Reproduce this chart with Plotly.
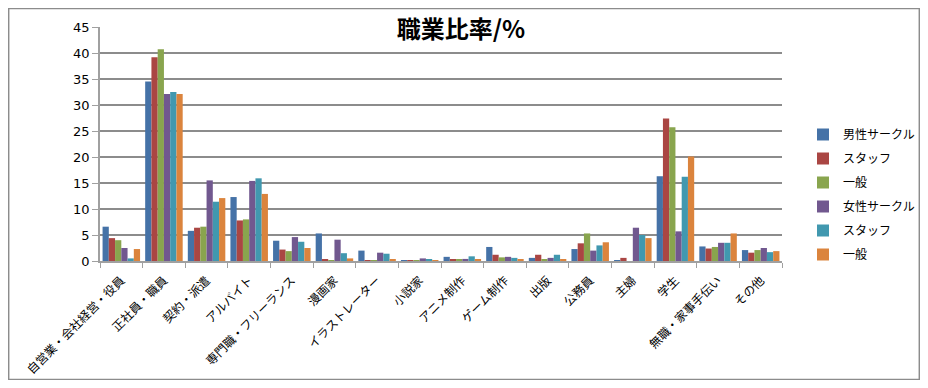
import plotly.graph_objects as go

categories = ["自営業・会社経営・役員", "正社員・職員", "契約・派遣", "アルバイト", "専門職・フリーランス",
              "漫画家", "イラストレーター", "小説家", "アニメ制作", "ゲーム制作", "出版", "公務員",
              "主婦", "学生", "無職・家事手伝い", "その他"]

series_names = ["男性サークル", "スタッフ", "一般", "女性サークル", "スタッフ", "一般"]

male_circle   = [6.6, 34.5, 5.8, 12.3, 3.9, 5.3, 2.0, 0.1, 0.8, 2.7, 0.6, 2.3, 0.1, 16.3, 2.8, 2.1]
male_staff    = [4.4, 39.2, 6.4, 7.8, 2.2, 0.2, 0.1, 0.1, 0.3, 1.2, 1.2, 3.4, 0.6, 27.4, 2.4, 1.6]
male_general  = [4.0, 40.7, 6.6, 8.0, 1.9, 0.1, 0.1, 0.1, 0.2, 0.7, 0.3, 5.3, 0.0, 25.7, 2.7, 2.1]
female_circle = [2.5, 32.1, 15.5, 15.4, 4.6, 4.1, 1.6, 0.5, 0.4, 0.8, 0.6, 2.0, 6.4, 5.7, 3.5, 2.5]
female_staff  = [0.5, 32.5, 11.4, 15.9, 3.7, 1.5, 1.4, 0.2, 0.9, 0.6, 1.2, 3.0, 5.0, 16.2, 3.5, 1.7]
female_general= [2.3, 32.1, 12.1, 12.9, 2.5, 0.5, 0.3, 0.1, 0.2, 0.2, 0.3, 3.6, 4.4, 20.1, 5.3, 1.9]

series_values = [male_circle, male_staff, male_general, female_circle, female_staff, female_general]
colors = ["#4572A7", "#AA4643", "#89A54E", "#71588F", "#4198AF", "#DB843D"]

fig = go.Figure()
for i, (name, vals) in enumerate(zip(series_names, series_values)):
    fig.add_trace(go.Bar(
        x=categories, y=vals, name=name, legendgroup=f"g{i}",
        marker=dict(color=colors[i], line=dict(width=0)),
    ))

# page body adds an 8px offset; figure sized to fit the window without scrollbars
OFF = 8
W, H = 912, 372
L = 100 - OFF
R = W - (782 - OFF)
T = 27 - OFF
B = H - (261 - OFF)
pw, ph = W - L - R, H - T - B

def px(x):
    return (x - OFF - L) / pw

def py(y):
    return (H - B - (y - OFF)) / ph

fig.update_layout(
    width=W, height=H,
    margin=dict(l=L, r=R, t=T, b=B, autoexpand=False),
    paper_bgcolor="white", plot_bgcolor="white",
    barmode="group", bargap=0.12, bargroupgap=0.0,
    font=dict(family="Noto Sans CJK JP", color="black"),
    title=dict(text="<b>職業比率/%</b>", xref="container", x=(461 - OFF) / W, xanchor="center",
               yref="container", y=1 - (30 - OFF) / H, yanchor="middle",
               font=dict(size=24, family="Noto Sans CJK JP", color="black")),
    legend=dict(x=px(803), y=py(120), xanchor="left", yanchor="top",
                font=dict(size=12, family="Noto Sans CJK JP"), tracegroupgap=5,
                itemwidth=30, bgcolor="rgba(0,0,0,0)"),
    showlegend=True,
    xaxis=dict(tickangle=-45, tickfont=dict(size=12, family="Noto Sans CJK JP"),
               automargin=False, tickson="boundaries", ticklabelstandoff=6,
               showline=True, linecolor="#A0A0A0", linewidth=1.5,
               ticks="outside", ticklen=5, tickcolor="#A0A0A0", showgrid=False),
    yaxis=dict(range=[0, 45], dtick=5, tickfont=dict(size=13, family="DejaVu Sans"),
               automargin=False,
               showline=True, linecolor="#A0A0A0", linewidth=1.5,
               ticks="outside", ticklen=6, tickcolor="#A0A0A0",
               showgrid=True, gridcolor="#8C8C8C", gridwidth=1.5, zeroline=False),
    shapes=[dict(type="rect", xref="paper", yref="paper",
                 x0=-L / pw + 0.001, x1=(W - L) / pw - 0.001,
                 y0=-B / ph + 0.002, y1=(H - B) / ph - 0.002,
                 line=dict(color="#8C8C8C", width=1.5), layer="below")],
)

fig.write_html("out.html")
